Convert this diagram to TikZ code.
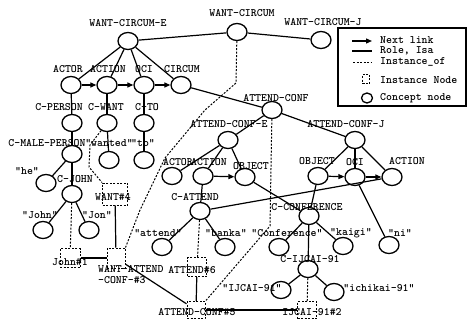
\documentclass[tikz,border=0pt]{standalone}
\usepackage{fontspec}
\newfontfamily\labfont{lmmonolt10-bold.otf}
\usetikzlibrary{shapes.geometric,arrows.meta}
\tikzset{
 cn/.style={ellipse, draw, line width=1.3pt, minimum width=20pt, minimum height=17pt, inner sep=0pt},
 inst/.style={draw, dash pattern=on 2pt off 1.5pt, line width=1pt, inner sep=0pt},
 lbl/.style={font=\labfont\fontsize{11.3}{11}\selectfont, inner sep=0pt},
 role/.style={line width=1.2pt},
 nxt/.style={line width=1.2pt, -{Triangle[length=6pt,width=5pt]}},
 inof/.style={line width=1pt, dash pattern=on 2pt off 1.5pt},
}
\begin{document}
\begin{tikzpicture}[x=1pt,y=-1pt]
\useasboundingbox (0,0) rectangle (470,321);
% concept nodes
\node[cn] (wc) at (237,32) {};
\node[cn] (wce) at (128,41) {};
\node[cn] (wcj) at (321,40) {};
\node[cn] (actor1) at (71,85) {};
\node[cn] (action1) at (107,85) {};
\node[cn] (oci1) at (144,85) {};
\node[cn] (circum1) at (181,85) {};
\node[cn] (cperson) at (72,123) {};
\node[cn] (cwant) at (107,123) {};
\node[cn] (cto) at (144,123) {};
\node[cn] (cmale) at (72,154) {};
\node[cn] (wanted) at (109,160) {};
\node[cn] (to) at (144,160) {};
\node[cn] (he) at (46,183) {};
\node[cn] (cjohn) at (72,194) {};
\node[cn] (john) at (43,230) {};
\node[cn] (jon) at (89,230) {};
\node[cn] (ac) at (272,110) {};
\node[cn] (ace) at (228,140) {};
\node[cn] (acj) at (355,140) {};
\node[cn] (actor2) at (172,176) {};
\node[cn] (action2) at (203,176) {};
\node[cn] (object2) at (245,177) {};
\node[cn] (cattend) at (200,211) {};
\node[cn] (attend) at (162,247) {};
\node[cn] (banka) at (225,247) {};
\node[cn] (object3) at (318,176) {};
\node[cn] (oci3) at (355,177) {};
\node[cn] (action3) at (392,177) {};
\node[cn] (cconf) at (309,216) {};
\node[cn] (conf) at (279,247) {};
\node[cn] (kaigi) at (343,246) {};
\node[cn] (ni) at (389,245) {};
\node[cn] (cijcai) at (308,269) {};
\node[cn] (ijcai) at (281,290) {};
\node[cn] (ichikai) at (334,292) {};
% instance nodes
\node[inst, minimum width=25pt, minimum height=22pt] (want4) at (115,194) {};
\node[inst, minimum width=20pt, minimum height=19pt] (john1) at (70,258) {};
\node[inst, minimum width=18pt, minimum height=20pt] (wac3) at (116,258) {};
\node[inst, minimum width=19pt, minimum height=19pt] (attend6) at (197,267) {};
\node[inst, minimum width=18pt, minimum height=17pt] (ac5) at (196,310) {};
\node[inst, minimum width=19pt, minimum height=17pt] (ij2) at (307,310) {};
% labels
\node[lbl] (wc-l) at (242,13) {WANT-CIRCUM};
\node[lbl] (wce-l) at (128,23) {WANT-CIRCUM-E};
\node[lbl] (wcj-l) at (323,22) {WANT-CIRCUM-J};
\node[lbl] (actor1-l) at (68,69) {ACTOR};
\node[lbl] (action1-l) at (108,69) {ACTION};
\node[lbl] (oci1-l) at (144,69) {OCI};
\node[lbl] (circum1-l) at (182,69) {CIRCUM};
\node[lbl] (cperson-l) at (59,107) {C-PERSON};
\node[lbl] (cwant-l) at (106,107) {C-WANT};
\node[lbl] (cto-l) at (147,107) {C-TO};
\node[lbl] (cmale-l) at (47,143) {C-MALE-PERSON};
\node[lbl] (wanted-l) at (109,143) {"wanted"};
\node[lbl] (to-l) at (143,143) {"to"};
\node[lbl] (he-l) at (27,171) {"he"};
\node[lbl] (cjohn-l) at (75,179) {C-JOHN};
\node[lbl] (john-l) at (40,215) {"John"};
\node[lbl] (jon-l) at (97,215) {"Jon"};
\node[lbl] (ac-l) at (276,98) {ATTEND-CONF};
\node[lbl] (ace-l) at (229,124) {ATTEND-CONF-E};
\node[lbl] (acj-l) at (346,124) {ATTEND-CONF-J};
\node[lbl] (actor2-l) at (178,162) {ACTOR};
\node[lbl] (action2-l) at (209,162) {ACTION};
\node[lbl] (object2-l) at (251,166) {OBJECT};
\node[lbl] (cattend-l) at (195,197) {C-ATTEND};
\node[lbl] (attend-l) at (158,233) {"attend"};
\node[lbl] (banka-l) at (226,233) {"banka"};
\node[lbl] (object3-l) at (317,161) {OBJECT};
\node[lbl] (oci3-l) at (355,162) {OCI};
\node[lbl] (action3-l) at (407,161) {ACTION};
\node[lbl] (cconf-l) at (307,207) {C-CONFERENCE};
\node[lbl] (conf-l) at (287,233) {"Conference"};
\node[lbl] (kaigi-l) at (351,233) {"kaigi"};
\node[lbl] (ni-l) at (400,233) {"ni"};
\node[lbl] (cijcai-l) at (310,259) {C-IJCAI-91};
\node[lbl] (ijcai-l) at (252,288) {"IJCAI-91"};
\node[lbl] (ichikai-l) at (379,288) {"ichikai-91"};
\node[lbl] (want4-l) at (113,197) {WANT\#4};
\node[lbl] (john1-l) at (70,262) {John\#1};
\node[lbl, align=left, anchor=north west] (wac3-l) at (98,265) {WANT-ATTEND\\-CONF-\#3};
\node[lbl] (attend6-l) at (192,270) {ATTEND\#6};
\node[lbl] (ac5-l) at (197,312) {ATTEND-CONF\#5};
\node[lbl] (ij2-l) at (312,312) {IJCAI-91\#2};
% role / isa links
\draw[role] (wc) -- (wce);
\draw[role] (wc) -- (wcj);
\foreach \c in {actor1,action1,oci1,circum1} \draw[role] (wce) -- (\c);
\draw[role] (actor1) -- (cperson);
\draw[role] (cperson) -- (cmale);
\draw[role] (cmale) -- (cjohn);
\draw[role] (cmale) -- (he);
\draw[role] (cjohn) -- (john);
\draw[role] (cjohn) -- (jon);
\draw[role] (action1) -- (cwant);
\draw[role] (cwant) -- (wanted);
\draw[role] (oci1) -- (cto);
\draw[role] (cto) -- (to);
\draw[role] (circum1) -- (ac);
\draw[role] (ac) -- (ace);
\draw[role] (ac) -- (acj);
\foreach \c in {actor2,action2,object2} \draw[role] (ace) -- (\c);
\draw[role] (action2) -- (cattend);
\draw[role] (cattend) -- (attend);
\draw[role] (cattend) -- (banka);
\draw[role] (object2) -- (cconf);
\foreach \c in {object3,oci3,action3} \draw[role] (acj) -- (\c);
\draw[role] (object3) -- (cconf);
\draw[role] (action3) -- (cattend);
\draw[role] (oci3) -- (ni);
\draw[role] (cconf) -- (conf);
\draw[role] (cconf) -- (kaigi);
\draw[role] (cconf) -- (cijcai);
\draw[role] (cijcai) -- (ijcai);
\draw[role] (cijcai) -- (ichikai);
\draw[role] (want4) -- (wac3);
\draw[role] (john1) -- (wac3);
\draw[role] (wac3) -- (ac5);
\draw[role] (attend6) -- (ac5);
\draw[role] (ac5) -- (ij2);
% next links
\draw[nxt] (actor1) -- (action1);
\draw[nxt] (action1) -- (oci1);
\draw[nxt] (oci1) -- (circum1);
\draw[nxt] (action2) -- (object2);
\draw[nxt] (object3) -- (oci3);
\draw[nxt] (oci3) -- (action3);
% instance_of links
\coordinate (p1) at (236,83);
\coordinate (p2) at (205,110);
\coordinate (p3) at (165,158);
\coordinate (p4) at (140,210);
\draw[inof] (wc) -- (p1) -- (p2) -- (p3) -- (p4) -- (wac3.north east);
\coordinate (q1) at (90,145);
\coordinate (q2) at (89,167);
\draw[inof] (cwant) -- (q1) -- (q2) -- (want4.north west);
\draw[inof] (cjohn) -- (john1);
\draw[inof] (cattend) -- (attend6);
\coordinate (r1) at (270,226);
\draw[inof] (ac) -- (r1) -- (ac5.north east);
\draw[inof] (cijcai) -- (ij2);
% legend
\node[draw, line width=1.5pt, minimum width=128pt, minimum height=78pt, inner sep=0pt] (legend) at (402,67) {};
\coordinate (l1a) at (352,41); \coordinate (l1b) at (372,41);
\draw[nxt] (l1a) -- (l1b);
\node[lbl, anchor=west] (t1) at (380,40) {Next link};
\coordinate (l2a) at (352,51); \coordinate (l2b) at (372,51);
\draw[role] (l2a) -- (l2b);
\node[lbl, anchor=west] (t2) at (380,51) {Role, Isa};
\coordinate (l3a) at (353,62); \coordinate (l3b) at (372,62);
\draw[inof] (l3a) -- (l3b);
\node[lbl, anchor=west] (t3) at (380,62) {Instance\_of};
\node[inst, minimum width=7pt, minimum height=9pt] (li) at (366,79) {};
\node[lbl, anchor=west] (t4) at (380,80) {Instance Node};
\node[ellipse, draw, line width=1.3pt, minimum width=11pt, minimum height=10pt, inner sep=0pt] (lc) at (367,98) {};
\node[lbl, anchor=west] (t5) at (380,98) {Concept node};
\end{tikzpicture}
\end{document}
